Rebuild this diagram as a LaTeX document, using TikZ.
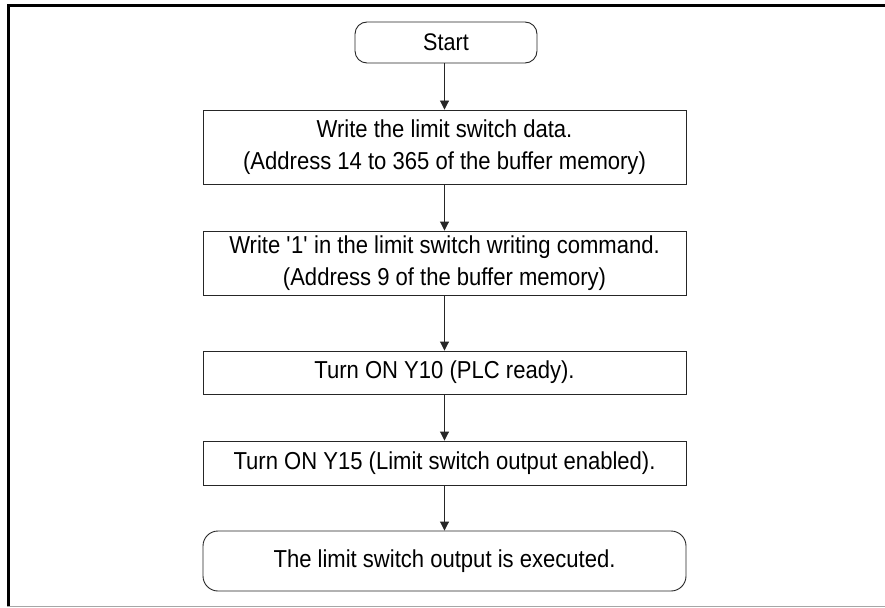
\documentclass[tikz,border=0pt]{standalone}
\usepackage{fontspec}
\setmainfont{Liberation Sans}[FakeStretch=0.9]
\usetikzlibrary{arrows.meta}
\begin{document}
\begin{tikzpicture}[x=1pt,y=-1pt,
  every node/.style={font=\fontsize{24.5}{32}\selectfont},
  procbox/.style={draw=black!85, line width=0.9pt, inner sep=0pt, align=center, minimum width=483pt},
  termbox/.style={procbox, rounded corners=12pt},
  flow/.style={draw=black!85, line width=0.9pt, -{Triangle[width=9pt,length=9pt]}}]
\useasboundingbox (0,0) rectangle (885,607);
% frame
\draw[line width=3pt] (8.5,606) -- (8.5,5.5) -- (885,5.5);
\draw[black!35, line width=1pt] (7,606) -- (885,606);
% nodes
\node[termbox, minimum width=182pt, minimum height=41pt, font=\fontsize{24}{30}\selectfont] (start) at (446,42.5) {Start};
\node[procbox, minimum height=74pt] (b1) at (444.5,147) {Write the limit switch data.\\(Address 14 to 365 of the buffer memory)};
\node[procbox, minimum height=64pt] (b2) at (444.5,263) {Write \textquotesingle 1\textquotesingle{} in the limit switch writing command.\\(Address 9 of the buffer memory)};
\node[procbox, minimum height=43pt] (b3) at (444.5,372.5) {Turn ON Y10 (PLC ready).};
\node[procbox, minimum height=44pt] (b4) at (444.5,463) {Turn ON Y15 (Limit switch output enabled).};
\node[termbox, rounded corners=15pt, minimum height=60pt] (end) at (444.5,561) {The limit switch output is executed.};
% connectors
\draw[flow] (start.south -| b1.north) -- (b1.north);
\draw[flow] (b1) -- (b2);
\draw[flow] (b2) -- (b3);
\draw[flow] (b3) -- (b4);
\draw[flow] (b4) -- (end);
\end{tikzpicture}
\end{document}
